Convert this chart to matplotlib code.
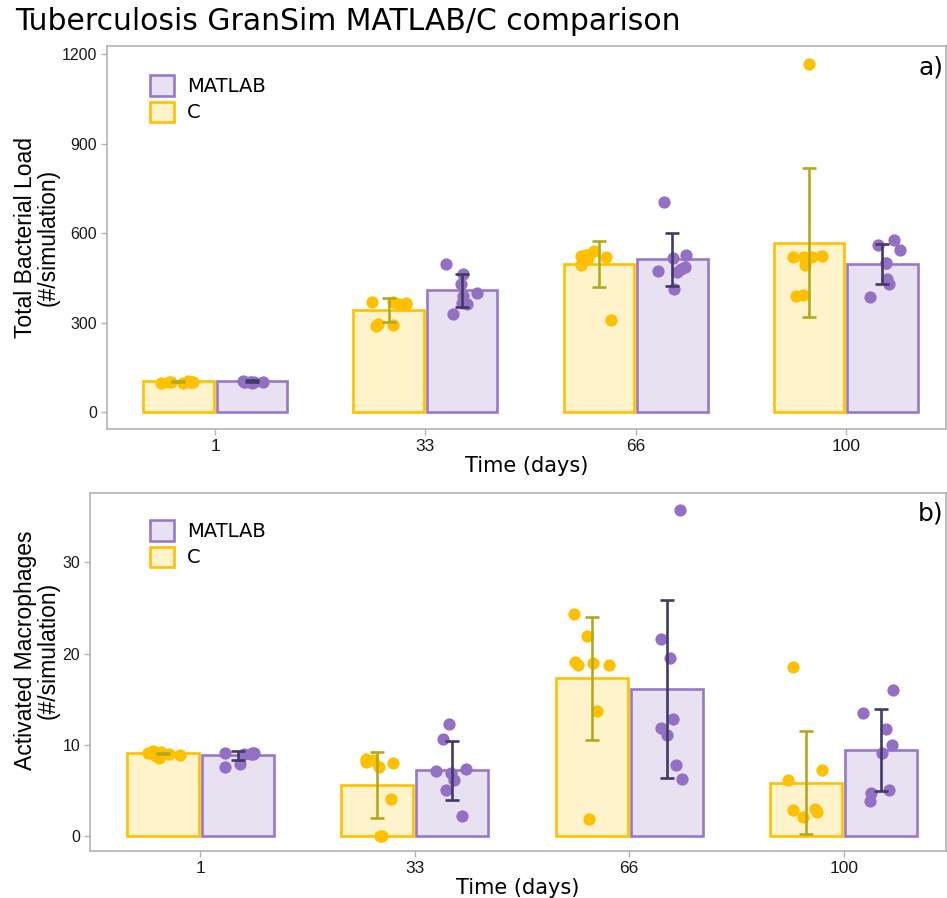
"""
Tuberculosis GranSim MATLAB/C comparison - bar + jittered points + SD error bars
"""
import matplotlib
matplotlib.use("Agg")
import numpy as np
import matplotlib.pyplot as plt
from matplotlib.patches import Patch
from matplotlib import font_manager

# ── Data ────────────────────────────────────────────────────────
days = ["1", "33", "66", "100"]

bact_c_pts = [
    [98, 101, 103, 99, 102, 100, 97, 101],
    [366, 362, 368, 363, 295, 288, 290, 370],
    [523, 528, 520, 516, 540, 493, 308, 525],
    [1165, 522, 520, 518, 521, 492, 392, 390],
]
bact_m_pts = [
    [100, 102, 99, 101, 103, 100, 98, 101],
    [495, 462, 428, 398, 362, 389, 365, 328],
    [705, 525, 515, 486, 470, 478, 473, 411],
    [577, 560, 543, 498, 498, 445, 429, 387],
]
bact_c_mean = [103, 341, 496, 567]
bact_c_sd = [2, 40, 76, 250]
bact_m_mean = [104, 408, 512, 496]
bact_m_sd = [2, 55, 88, 67]

mac_c_pts = [
    [9.2, 9.0, 8.6, 9.1, 8.9, 9.3, 9.0, 8.8],
    [8.4, 8.0, 7.6, 8.1, 4.1, 0.0, 0.0, 8.3],
    [24.3, 21.9, 19.1, 18.8, 18.7, 13.7, 1.9, 19.0],
    [18.5, 7.2, 6.1, 3.0, 2.6, 2.8, 2.1],
]
mac_m_pts = [
    [9.1, 9.0, 9.05, 8.95, 9.1, 9.0, 7.9, 7.6],
    [12.3, 10.6, 7.1, 7.4, 6.9, 6.1, 5.0, 2.2],
    [35.7, 21.6, 19.5, 12.8, 11.8, 11.1, 7.8, 6.2],
    [16.0, 13.5, 11.7, 10.0, 9.1, 5.0, 4.7, 3.8],
]
mac_c_mean = [9.05, 5.6, 17.3, 5.85]
mac_c_sd = [0.1, 3.6, 6.75, 5.65]
mac_m_mean = [8.85, 7.2, 16.1, 9.45]
mac_m_sd = [0.5, 3.2, 9.75, 4.5]

# ── Style ───────────────────────────────────────────────────────
C_EDGE = "#FFC000"
C_FILL = "#FFF3CC"
C_DOT = "#FFC000"
C_ERR = "#B5A81E"
M_EDGE = "#9878C8"
M_FILL = "#E8E1F2"
M_DOT = "#9470C4"
M_ERR = "#3F3B66"
FRAME = "#B3B3B3"
SANS = ["Liberation Sans", "DejaVu Sans"]
DEJA = ["DejaVu Sans"]

installed = {f.name for f in font_manager.fontManager.ttflist}
if "Liberation Sans Narrow" in installed:
    YLAB_FONT, YLAB_SIZE = ["Liberation Sans Narrow", "Liberation Sans"], 18
else:
    YLAB_FONT, YLAB_SIZE = SANS, 16.5

W, H = 947, 898
fig = plt.figure(figsize=(W / 100, H / 100), dpi=100)
fig.patch.set_facecolor("white")

BW = 0.335
OFF = 0.175
rng = np.random.default_rng(7)


def panel(ax, c_pts, m_pts, c_mean, c_sd, m_mean, m_sd, ylabel, tag, yticks, ylim):
    x = np.arange(len(days))
    ax.bar(x - OFF, c_mean, BW, facecolor=C_FILL, edgecolor=C_EDGE, linewidth=1.9, zorder=2)
    ax.bar(x + OFF, m_mean, BW, facecolor=M_FILL, edgecolor=M_EDGE, linewidth=1.9, zorder=2)
    for i in range(len(days)):
        jc = rng.uniform(-0.085, 0.085, len(c_pts[i]))
        jm = rng.uniform(-0.085, 0.085, len(m_pts[i]))
        ax.scatter(x[i] - OFF + jc, c_pts[i], s=78, color=C_DOT, linewidths=0, zorder=3)
        ax.scatter(x[i] + OFF + jm, m_pts[i], s=78, color=M_DOT, linewidths=0, zorder=3)
    ax.errorbar(x - OFF, c_mean, yerr=c_sd, fmt="none", ecolor=C_ERR, elinewidth=1.9,
                capsize=5, capthick=1.9, zorder=4)
    ax.errorbar(x + OFF, m_mean, yerr=m_sd, fmt="none", ecolor=M_ERR, elinewidth=1.9,
                capsize=5, capthick=1.9, zorder=4)

    ax.set_xlim(-0.515, 3.475)
    ax.set_ylim(*ylim)
    ax.set_xticks(x)
    ax.set_xticklabels(days, fontsize=12.5, family=SANS, color="#1a1a1a")
    ax.set_yticks(yticks)
    ax.set_yticklabels([str(t) for t in yticks], fontsize=11.5, family=SANS, color="#1a1a1a")
    ax.tick_params(axis="both", color=FRAME, length=4, width=1, pad=3)
    for sp in ax.spines.values():
        sp.set_edgecolor(FRAME)
        sp.set_linewidth(1.2)
    ax.set_xlabel("Time (days)", fontsize=15, family=DEJA, labelpad=2)
    ax.set_ylabel(ylabel, fontsize=YLAB_SIZE, family=YLAB_FONT, va="center", linespacing=0.95)
    ax.text(0.998, 0.975, tag, transform=ax.transAxes, ha="right", va="top",
            fontsize=18, family=DEJA)

    handles = [Patch(facecolor=M_FILL, edgecolor=M_EDGE, linewidth=1.9, label="MATLAB"),
               Patch(facecolor=C_FILL, edgecolor=C_EDGE, linewidth=1.9, label="C")]
    return handles


# ── Panel a ─────────────────────────────────────────────────────
ax1 = fig.add_axes([107 / W, 1 - 429 / H, (945.5 - 107) / W, (429 - 46) / H])
h = panel(ax1, bact_c_pts, bact_m_pts, bact_c_mean, bact_c_sd, bact_m_mean, bact_m_sd,
          "Total Bacterial Load\n(#/simulation)", "a)", [0, 300, 600, 900, 1200], (-57, 1227))
ax1.yaxis.set_label_coords((37 - 107) / (945.5 - 107), 0.5)
ax1.legend(handles=h, loc="upper left", bbox_to_anchor=(43 / 838.5, 1 - 29 / 383),
           frameon=False, borderpad=0, borderaxespad=0, handlelength=1.25, handleheight=1.25,
           labelspacing=0.3, handletextpad=0.65, prop={"family": DEJA, "size": 14})

# ── Panel b ─────────────────────────────────────────────────────
ax2 = fig.add_axes([90 / W, 1 - 851 / H, (945.5 - 90) / W, (851 - 493) / H])
h = panel(ax2, mac_c_pts, mac_m_pts, mac_c_mean, mac_c_sd, mac_m_mean, mac_m_sd,
          "Activated Macrophages\n(#/simulation)", "b)", [0, 10, 20, 30], (-1.64, 37.6))
ax2.yaxis.set_label_coords((37 - 90) / (945.5 - 90), (851 - 650) / 358)
ax2.legend(handles=h, loc="upper left", bbox_to_anchor=(60 / 855.5, 1 - 27 / 358),
           frameon=False, borderpad=0, borderaxespad=0, handlelength=1.25, handleheight=1.25,
           labelspacing=0.3, handletextpad=0.65, prop={"family": DEJA, "size": 14})

fig.text(15 / W, 1 - 22 / H, "Tuberculosis GranSim MATLAB/C comparison",
         ha="left", va="center", fontsize=21.5, family=DEJA)

fig.savefig("out.png", dpi=100, facecolor="white")
